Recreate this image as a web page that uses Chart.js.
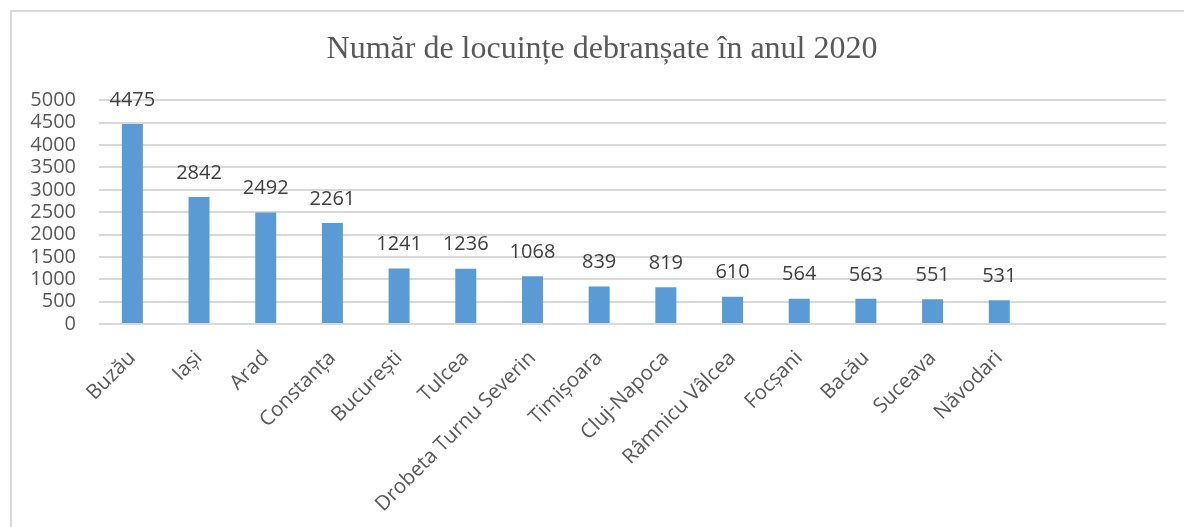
<!DOCTYPE html>
<html>
<head>
<meta charset="utf-8">
<script src="https://cdn.jsdelivr.net/npm/chart.js@4/dist/chart.umd.min.js"></script>
<style>
html,body{margin:0;padding:0;background:#fff;}
#wrap{width:1184px;height:527px;position:relative;}
</style>
</head>
<body>
<div id="wrap"><canvas id="c" width="1184" height="527"></canvas></div>
<script>
const categories = ["Buzău","Iași","Arad","Constanța","București","Tulcea","Drobeta Turnu Severin","Timișoara","Cluj-Napoca","Râmnicu Vâlcea","Focșani","Bacău","Suceava","Năvodari","",""];
const values = [4475,2842,2492,2261,1241,1236,1068,839,819,610,564,563,551,531,null,null];
const titleText = "Număr de locuințe debranșate în anul 2020";
const yMin = 0, yMax = 5000, yStep = 500;

const framePlugin = {
  id: 'frame',
  beforeDraw(chart) {
    const ctx = chart.ctx;
    ctx.save();
    ctx.fillStyle = '#ffffff';
    ctx.fillRect(0, 0, chart.width, chart.height);
    ctx.strokeStyle = '#d9d9d9';
    ctx.lineWidth = 2;
    ctx.beginPath();
    ctx.moveTo(11, chart.height);
    ctx.lineTo(11, 11);
    ctx.lineTo(chart.width, 11);
    ctx.stroke();
    ctx.restore();
  }
};

const labelPlugin = {
  id: 'barLabels',
  afterDatasetsDraw(chart) {
    const ctx = chart.ctx;
    const meta = chart.getDatasetMeta(0);
    ctx.save();
    ctx.font = '20px "Open Sans"';
    ctx.fillStyle = '#404040';
    ctx.textAlign = 'center';
    ctx.textBaseline = 'middle';
    meta.data.forEach((bar, i) => {
      const v = values[i];
      if (v === null || v === undefined) return;
      ctx.fillText(String(v), bar.x, bar.y - 24);
    });
    ctx.restore();
  }
};

new Chart(document.getElementById('c'), {
  type: 'bar',
  data: {
    labels: categories,
    datasets: [{
      data: values,
      backgroundColor: '#5b9bd5',
      borderWidth: 0,
      categoryPercentage: 1,
      barPercentage: 0.315
    }]
  },
  options: {
    responsive: false,
    animation: false,
    devicePixelRatio: 1,
    layout: { padding: { left: 20, right: 0, top: 10, bottom: 0 } },
    plugins: {
      legend: { display: false },
      tooltip: { enabled: false },
      title: {
        display: true,
        text: titleText,
        color: '#595959',
        font: { family: '"Liberation Serif", "Times New Roman", serif', size: 32, weight: 'normal', lineHeight: 1.2 },
        padding: { top: 20, bottom: 32 }
      }
    },
    scales: {
      x: {
        grid: { display: false, drawTicks: false },
        border: { display: false },
        ticks: {
          color: '#595959',
          font: { family: '"Open Sans"', size: 20.5 },
          maxRotation: 45,
          minRotation: 45,
          autoSkip: false,
          padding: 22
        },
        afterFit(scale) { scale.height = 203; }
      },
      y: {
        min: yMin,
        max: yMax,
        grid: { color: '#d9d9d9', lineWidth: 2, drawTicks: false },
        border: { display: false },
        ticks: {
          stepSize: yStep,
          autoSkip: false,
          color: '#595959',
          font: { family: '"Open Sans"', size: 20 },
          padding: 23,
          callback: (v) => String(v)
        },
        afterFit(scale) { scale.width = 79; }
      },
      yRight: {
        position: 'right',
        display: true,
        grid: { display: false, drawTicks: false },
        border: { display: false },
        ticks: { display: false },
        afterFit(scale) { scale.width = 18; }
      }
    }
  },
  plugins: [framePlugin, labelPlugin]
});
</script>
</body>
</html>
